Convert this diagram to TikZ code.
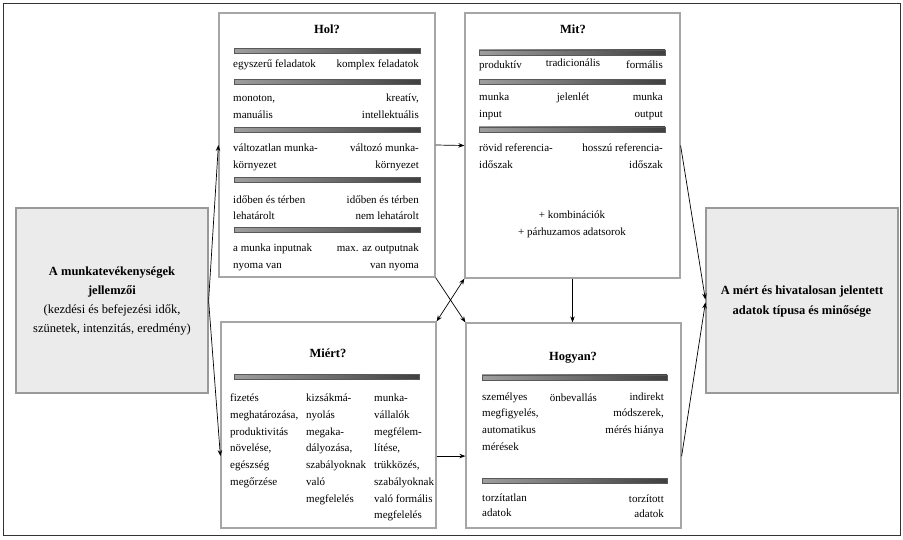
\documentclass[tikz,border=0pt]{standalone}
\usepackage{fontspec}
\setmainfont{Liberation Serif}
\usetikzlibrary{arrows.meta,calc}
\begin{document}
\begin{tikzpicture}[x=1pt,y=-1pt,
  panel/.style={draw=black!35, line width=1.2pt, fill=white, inner sep=0, rectangle},
  sidebox/.style={draw=black!40, line width=1.2pt, fill=black!8, inner sep=0, align=center},
  ttl/.style={inner sep=0, anchor=base, font=\bfseries\fontsize{12.5}{15}\selectfont},
  txt/.style={inner sep=0, font=\fontsize{11}{16.7}\selectfont},
  tl/.style={txt, anchor=north west, align=left},
  tr/.style={txt, anchor=north east, align=right},
  tc/.style={txt, anchor=north, align=center},
  bar/.style={draw=black!65, line width=0.5pt, left color=black!38, right color=black!75},
  arr/.style={line width=0.7pt, -{Stealth[length=6pt,width=4.5pt]}},
  darr/.style={line width=0.7pt, {Stealth[length=6pt,width=4.5pt]}-{Stealth[length=6pt,width=4.5pt]}}
]
\useasboundingbox (0,0) rectangle (903,539);
\draw[line width=0.9pt, black!80] (3,3) rectangle (900,535);

% side boxes
\node[sidebox, minimum width=192pt, minimum height=185pt, font=\fontsize{12.5}{18.9}\selectfont] (lft) at (112,300.5)
  {\strut\textbf{A munkatevékenységek}\\\textbf{jellemzői}\\(kezdési és befejezési idők,\\szünetek, intenzitás, eredmény)\strut};
\node[sidebox, minimum width=192pt, minimum height=185pt, font=\bfseries\fontsize{12.5}{20}\selectfont] (rgt) at (802,300.5)
  {\strut A mért és hivatalosan jelentett\\adatok típusa és minősége\strut};

% panels
\node[panel, minimum width=216pt, minimum height=264pt] (hol) at (327,145) {};
\node[panel, minimum width=215pt, minimum height=265pt] (mit) at (572.5,145.5) {};
\node[panel, minimum width=215pt, minimum height=206pt] (miert) at (328.5,425) {};
\node[panel, minimum width=215pt, minimum height=205pt] (hogyan) at (573.5,425.5) {};

% Hol?
\node[ttl] (holT) at (327,33) {Hol?};
\draw[bar] (234,48.2) rectangle (420,53.2);
\node[tl] (h1l) at (233,55.5) {\strut egyszerű feladatok};
\node[tr] (h1r) at (419,55.5) {\strut komplex feladatok};
\draw[bar] (234,79.2) rectangle (420,84.2);
\node[tl] (h2l) at (233,90) {\strut monoton,\\manuális};
\node[tr] (h2r) at (419,90) {\strut kreatív,\\intellektuális};
\draw[bar] (234,127.3) rectangle (420,132.3);
\node[tl] (h3l) at (233,140) {\strut változatlan munka-\\környezet};
\node[tr] (h3r) at (419,140) {\strut változó munka-\\környezet};
\draw[bar] (234,177.5) rectangle (420,182.5);
\node[tl] (h4l) at (233,191.3) {\strut időben és térben\\lehatárolt};
\node[tr] (h4r) at (419,191.3) {\strut időben és térben\\nem lehatárolt};
\draw[bar] (234,227.5) rectangle (420,232.5);
\node[tl] (h5l) at (233,240) {\strut a munka inputnak\\nyoma van};
\node[tr] (h5r) at (419,240) {\strut max. az outputnak\\van nyoma};

% Mit?
\node[ttl] (mitT) at (573,33) {Mit?};
\draw[bar] (479,49.8) rectangle (665,54.8);
\node[tl] (m1l) at (479,56.6) {\strut produktív};
\node[tc] (m1c) at (573,54.3) {\strut tradicionális};
\node[tr] (m1r) at (663,56.6) {\strut formális};
\draw[bar] (479,79.2) rectangle (665,84.2);
\node[tl] (m2l) at (479,89) {\strut munka\\input};
\node[tc] (m2c) at (573,88.3) {\strut jelenlét};
\node[tr] (m2r) at (663,89) {\strut munka\\output};
\draw[bar] (479,126.8) rectangle (665,131.8);
\node[tl] (m3l) at (479,140) {\strut rövid referencia-\\időszak};
\node[tr] (m3r) at (663,140) {\strut hosszú referencia-\\időszak};
\node[tc] (m4) at (572,206.6) {\strut + kombinációk\\+ párhuzamos adatsorok};

% Miért?
\node[ttl] (miertT) at (328,357.7) {Miért?};
\draw[bar] (234,374.5) rectangle (419,379.5);
\node[tl] (w1) at (230,390) {\strut fizetés\\meghatározása,\\produktivitás\\növelése,\\egészség\\megőrzése};
\node[tl] (w2) at (306,390) {\strut kizsákmá-\\nyolás\\megaka-\\dályozása,\\szabályoknak\\való\\megfelelés};
\node[tl] (w3) at (374,390) {\strut munka-\\vállalók\\megfélem-\\lítése,\\trükközés,\\szabályoknak\\való formális\\megfelelés};

% Hogyan?
\node[ttl] (hogyanT) at (573,360) {Hogyan?};
\draw[bar] (482,374.8) rectangle (667,379.8);
\node[tl] (g1l) at (482,388.3) {\strut személyes\\megfigyelés,\\automatikus\\mérések};
\node[tc] (g1c) at (573.3,390) {\strut önbevallás};
\node[tr] (g1r) at (664,388.3) {\strut indirekt\\módszerek,\\mérés hiánya};
\draw[bar] (482,478.2) rectangle (667,483.2);
\node[tl, font=\fontsize{11}{15}\selectfont] (g2l) at (482,491) {\strut torzítatlan\\adatok};
\node[tr, font=\fontsize{11}{15}\selectfont] (g2r) at (664,491.6) {\strut torzított\\adatok};

% connectors
\coordinate (mL) at ($(miert.south west)!0.35!(miert.north west)$);
\coordinate (mR) at ($(miert.south east)!0.35!(miert.north east)$);
\coordinate (gR) at ($(hogyan.south east)!0.35!(hogyan.north east)$);
\draw[arr] (lft.east) -- (hol.west);
\draw[arr] (lft.east) -- (mL);
\draw[arr] (hol.east) -- (mit.west);
\draw[arr] (hol.south east) -- (hogyan.north west);
\draw[darr] (mit.south west) -- (miert.north east);
\draw[arr] (mit.south) -- (mit.south |- hogyan.north);
\draw[arr] (mR) -- (mR -| hogyan.west);
\draw[arr] (mit.east) -- ([yshift=1pt]rgt.west);
\draw[arr] (gR) -- ([yshift=-2pt]rgt.west);
\end{tikzpicture}
\end{document}
